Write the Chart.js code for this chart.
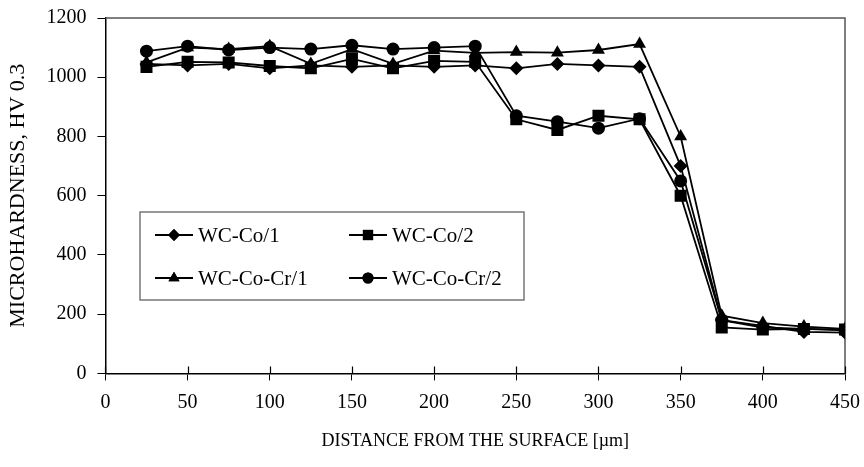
<!DOCTYPE html>
<html>
<head>
<meta charset="utf-8">
<script src="https://cdn.jsdelivr.net/npm/chart.js@4"></script>
<style>
  body { margin: 0; background: #fff; }
</style>
</head>
<body>
<canvas id="hardness" width="864" height="467"></canvas>
<script>
// depth below surface, µm
const distance = [25, 50, 75, 100, 125, 150, 175, 200, 225, 250, 275, 300, 325, 350, 375, 400, 425, 450];

const wcCo1 = [1045, 1040, 1045, 1030, 1040, 1035, 1040, 1035, 1040, 1030, 1045, 1040, 1035, 700, 180, 160, 140, 138];
const wcCo2 = [1035, 1052, 1050, 1038, 1030, 1062, 1030, 1055, 1052, 858, 822, 870, 858, 600, 155, 148, 150, 148];
const wcCoCr1 = [1050, 1100, 1095, 1105, 1045, 1095, 1045, 1090, 1082, 1085, 1083, 1092, 1112, 800, 195, 170, 158, 150];
const wcCoCr2 = [1088, 1105, 1092, 1100, 1095, 1108, 1095, 1100, 1105, 870, 850, 828, 860, 650, 180, 155, 150, 145];

const seriesNames = ["WC-Co/1", "WC-Co/2", "WC-Co-Cr/1", "WC-Co-Cr/2"];
const seriesValues = [wcCo1, wcCo2, wcCoCr1, wcCoCr2];
const markers = ["rectRot", "rect", "triangle", "circle"];
const markerSize = [7, 8.5, 7.5, 6.5];

const font = "'Liberation Serif', 'Times New Roman', serif";

function toPoints(values) {
    let pts = [];
    for (let i = 0; i < distance.length; i++) {
        pts.push({ x: distance[i], y: values[i] });
    }
    return pts;
}

let datasets = [];
for (let i = 0; i < seriesNames.length; i++) {
    datasets.push({
        label: seriesNames[i],
        data: toPoints(seriesValues[i]),
        showLine: true,
        borderColor: "#000",
        backgroundColor: "#000",
        borderWidth: 1.8,
        pointStyle: markers[i],
        pointRadius: markerSize[i],
        pointBorderWidth: 0,
        tension: 0
    });
}

// frame round the plot area (top and right edges are grey in the original)
const frame = {
    id: "frame",
    beforeDatasetsDraw(chart) {
        const a = chart.chartArea;
        const ctx = chart.ctx;
        ctx.save();
        ctx.strokeStyle = "#555";
        ctx.lineWidth = 1.5;
        ctx.beginPath();
        ctx.moveTo(a.left, a.top);
        ctx.lineTo(a.right, a.top);
        ctx.lineTo(a.right, a.bottom);
        ctx.stroke();
        // x ticks in the original cross the axis, so add the inner half
        const xs = chart.scales.x;
        ctx.strokeStyle = "#000";
        ctx.lineWidth = 1.2;
        ctx.beginPath();
        for (const t of xs.ticks) {
            const px = Math.round(xs.getPixelForValue(t.value)) + 0.5;
            ctx.moveTo(px, a.bottom);
            ctx.lineTo(px, a.bottom - 7);
        }
        ctx.stroke();
        ctx.restore();
    }
};

// boxed legend sitting inside the plot
const boxLegend = {
    id: "boxLegend",
    afterDraw(chart) {
        const ctx = chart.ctx;
        const bx = 140, by = 212, bw = 384, bh = 88;
        ctx.save();
        ctx.fillStyle = "#fff";
        ctx.fillRect(bx, by, bw, bh);
        ctx.strokeStyle = "#777";
        ctx.lineWidth = 1.5;
        ctx.strokeRect(bx, by, bw, bh);
        ctx.font = "21px " + font;
        ctx.textBaseline = "middle";
        ctx.fillStyle = "#000";
        const cols = [155, 349];
        const rows = [235, 278];
        for (let i = 0; i < chart.data.datasets.length; i++) {
            const ds = chart.data.datasets[i];
            const lx = cols[i % 2];
            const ly = rows[Math.floor(i / 2)];
            ctx.strokeStyle = "#000";
            ctx.lineWidth = 1.8;
            ctx.beginPath();
            ctx.moveTo(lx, ly);
            ctx.lineTo(lx + 38, ly);
            ctx.stroke();
            Chart.helpers.drawPoint(ctx, {
                pointStyle: ds.pointStyle,
                radius: ds.pointRadius * 0.85,
                borderWidth: 0,
                rotation: 0
            }, lx + 19, ly);
            ctx.fill();
            ctx.fillText(ds.label, lx + 43, ly + 1);
        }
        ctx.restore();
    }
};

new Chart(document.getElementById("hardness").getContext("2d"), {
    type: "scatter",
    data: { datasets: datasets },
    plugins: [frame, boxLegend],
    options: {
        responsive: false,
        animation: false,
        layout: { padding: { left: 1, top: 18, right: 19, bottom: 11 } },
        plugins: {
            legend: { display: false },
            tooltip: { enabled: false }
        },
        scales: {
            x: {
                type: "linear",
                min: 0,
                max: 450,
                afterFit: (s) => { s.paddingRight = 0; },
                ticks: { stepSize: 50, color: "#000", padding: 10, font: { family: font, size: 20 } },
                grid: { display: true, drawOnChartArea: false, drawTicks: true, tickLength: 7, color: "#000" },
                border: { display: true, color: "#000", width: 1.5 },
                title: {
                    display: true,
                    text: "DISTANCE FROM THE SURFACE [µm]",
                    color: "#000",
                    padding: { top: 6 },
                    font: { family: font, size: 18 }
                }
            },
            y: {
                min: 0,
                max: 1200,
                afterFit: (s) => { s.paddingTop = 0; },
                ticks: {
                    stepSize: 200,
                    color: "#000",
                    padding: 11,
                    font: { family: font, size: 20 },
                    callback: (v) => String(v)
                },
                grid: { display: true, drawOnChartArea: false, drawTicks: true, tickLength: 8, color: "#000" },
                border: { display: true, color: "#000", width: 1.5 },
                title: {
                    display: true,
                    text: "MICROHARDNESS, HV 0.3",
                    color: "#000",
                    padding: { bottom: 4 },
                    font: { family: font, size: 22 }
                }
            }
        }
    }
});
</script>
</body>
</html>
